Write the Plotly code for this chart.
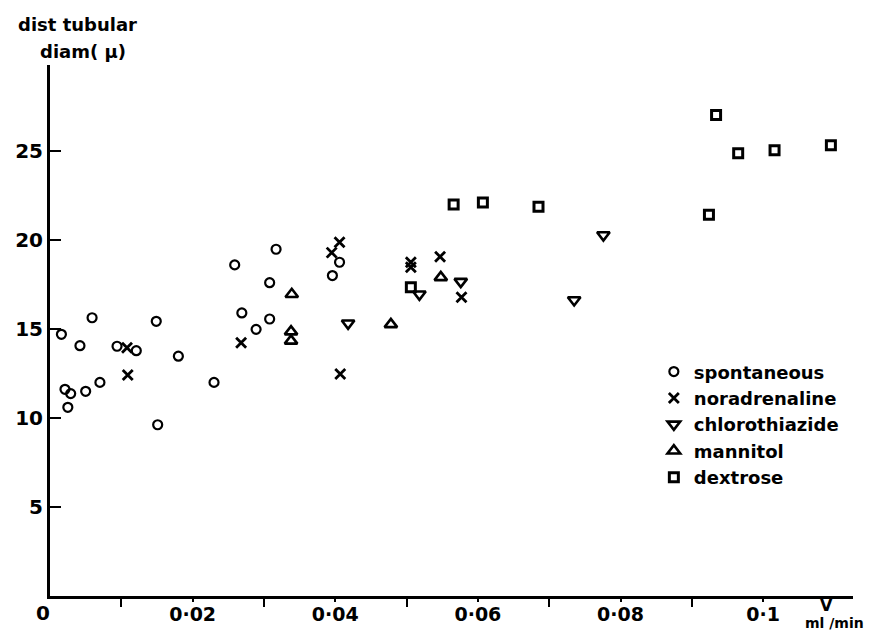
import plotly.graph_objects as go

# ---- data ----
spont_x = [0.0016, 0.0042, 0.0059, 0.0094, 0.0121, 0.0149, 0.0180, 0.0021, 0.0029, 0.0050,
           0.0070, 0.0025, 0.0151, 0.0230, 0.0269, 0.0289, 0.0308, 0.0308, 0.0317, 0.0259,
           0.0396, 0.0406]
spont_y = [14.7, 14.06, 15.63, 14.03, 13.78, 15.43, 13.47, 11.61, 11.37, 11.5,
           12.0, 10.6, 9.62, 12.0, 15.9, 14.98, 15.56, 17.6, 19.48, 18.6,
           18.0, 18.75]

nor_x = [0.0108, 0.0109, 0.0268, 0.0406, 0.0395, 0.0407, 0.0506, 0.0506, 0.0547, 0.0577]
nor_y = [13.95, 12.42, 14.23, 19.87, 19.29, 12.47, 18.75, 18.47, 19.06, 16.78]

chloro_x = [0.0418, 0.0518, 0.0576, 0.0735, 0.0776]
chloro_y = [15.32, 16.95, 17.66, 16.63, 20.28]

mann_x = [0.0339, 0.0338, 0.0338, 0.0478, 0.0548]
mann_y = [16.95, 14.85, 14.33, 15.26, 17.9]

dex_x = [0.0506, 0.0566, 0.0607, 0.0685, 0.0924, 0.0934, 0.0965, 0.1016, 0.1095]
dex_y = [17.34, 22.0, 22.1, 21.87, 21.42, 27.02, 24.87, 25.04, 25.32]

x_tick_vals = [0.02, 0.04, 0.06, 0.08, 0.1]
x_tick_text = ["0·02", "0·04", "0·06", "0·08", "0·1"]
x_minor_vals = [0.01, 0.03, 0.05, 0.07, 0.09]
y_tick_vals = [5, 10, 15, 20, 25]

FONT = "DejaVu Sans"
BLACK = "black"

fig = go.Figure()

series = [
    ("spontaneous", spont_x, spont_y, "circle-open", 9, 2.2),
    ("noradrenaline", nor_x, nor_y, "x-thin-open", 10, 2.8),
    ("chlorothiazide", chloro_x, chloro_y, "triangle-down-open", 11, 2.6),
    ("mannitol", mann_x, mann_y, "triangle-up-open", 11, 2.6),
    ("dextrose", dex_x, dex_y, "square-open", 9, 3),
]
for name, xs, ys, sym, size, lw in series:
    fig.add_trace(go.Scatter(
        x=xs, y=ys, mode="markers", name=name,
        marker=dict(symbol=sym, size=size, color=BLACK,
                    line=dict(color=BLACK, width=lw)),
    ))

fig.update_layout(
    width=868, height=629,
    margin=dict(l=42, r=23, t=57, b=41, autoexpand=False),
    paper_bgcolor="white", plot_bgcolor="white",
    font=dict(family=FONT, color=BLACK, size=18, weight="bold"),
    showlegend=True,
    legend=dict(x=0.752, y=0.457, xanchor="left", yanchor="top",
                bgcolor="rgba(0,0,0,0)", itemwidth=30,
                font=dict(family=FONT, size=18, color=BLACK, weight="bold"),
                tracegroupgap=0),
)

fig.update_xaxes(
    range=[0, 0.1126], showgrid=False, zeroline=False, automargin=False,
    showline=True, linecolor=BLACK, linewidth=3,
    tickmode="array", tickvals=x_tick_vals, ticktext=x_tick_text,
    ticks="outside", ticklen=3, tickwidth=2, tickcolor=BLACK,
    tickfont=dict(family=FONT, size=19, color=BLACK, weight="bold"),
    ticklabelstandoff=-4,
    minor=dict(tickvals=x_minor_vals, ticks="outside", ticklen=8,
               tickwidth=2, tickcolor=BLACK),
)
fig.update_yaxes(
    range=[0, 29.83], showgrid=False, zeroline=False, automargin=False,
    showline=True, linecolor=BLACK, linewidth=3,
    tickmode="array", tickvals=y_tick_vals,
    ticks="inside", ticklen=11, tickwidth=2, tickcolor=BLACK,
    tickfont=dict(family=FONT, size=20, color=BLACK, weight="bold"),
    ticklabelstandoff=0,
)

ann_font = dict(family=FONT, size=18, color=BLACK, weight="bold")
fig.add_annotation(x=0, y=0, xref="x", yref="y", text="0", showarrow=False,
                   xanchor="center", yanchor="top", xshift=-7, yshift=-3,
                   font=dict(family=FONT, size=20, color=BLACK, weight="bold"))
fig.add_annotation(x=0.1089, y=0, xref="x", yref="y", text="V", showarrow=False,
                   xanchor="center", yanchor="top", yshift=2,
                   font=dict(family=FONT, size=16, color=BLACK, weight="bold"))
fig.add_annotation(x=1.016, y=0, xref="paper", yref="y", text="ml /min", showarrow=False,
                   xanchor="right", yanchor="top", yshift=-17,
                   font=dict(family=FONT, size=14, color=BLACK, weight="bold"))
fig.add_annotation(x=0.034, y=1.077, xref="paper", yref="paper", text="dist tubular",
                   showarrow=False, xanchor="center", yanchor="middle", font=ann_font)
fig.add_annotation(x=0.041, y=1.025, xref="paper", yref="paper", text="diam( μ)",
                   showarrow=False, xanchor="center", yanchor="middle", font=ann_font)

fig.write_html("out.html")
